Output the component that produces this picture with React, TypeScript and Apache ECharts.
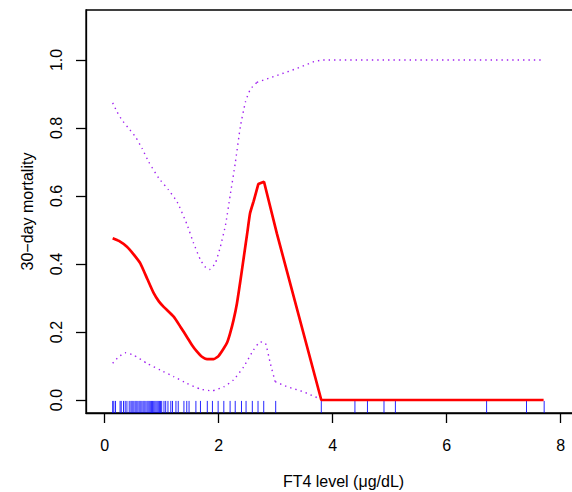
import React, { useEffect, useRef } from "react";
import * as echarts from "echarts";

// FT4 level (µg/dL) vs estimated 30-day mortality
const estimate: [number, number][] = [
  [0.14, 0.476], [0.25, 0.468], [0.39, 0.451], [0.5, 0.43], [0.625, 0.402],
  [0.75, 0.355], [0.86, 0.314], [0.95, 0.29], [1.035, 0.274], [1.21, 0.245],
  [1.33, 0.215], [1.44, 0.186], [1.53, 0.162], [1.62, 0.142], [1.7, 0.128],
  [1.795, 0.12], [1.91, 0.12], [2.0, 0.13], [2.09, 0.152], [2.15, 0.17],
  [2.2, 0.196], [2.26, 0.235], [2.32, 0.284], [2.38, 0.35], [2.44, 0.42],
  [2.5, 0.49], [2.55, 0.549], [2.61, 0.583], [2.695, 0.635], [2.795, 0.642],
  [3.02, 0.49], [3.8, 0], [7.7, 0],
];

const upperCI: [number, number][] = [
  [0.14, 0.874], [0.215, 0.848], [0.3, 0.824], [0.42, 0.799], [0.54, 0.774],
  [0.655, 0.74], [0.77, 0.701], [0.95, 0.652], [1.12, 0.618], [1.27, 0.583],
  [1.44, 0.518], [1.56, 0.461], [1.68, 0.412], [1.77, 0.39], [1.84, 0.384],
  [1.94, 0.402], [2.03, 0.451], [2.12, 0.515], [2.2, 0.6], [2.29, 0.696],
  [2.38, 0.804], [2.47, 0.877], [2.555, 0.914], [2.67, 0.934], [2.96, 0.951],
  [3.32, 0.972], [3.67, 0.995], [3.81, 1.0], [7.7, 1.0],
];

const lowerCI: [number, number][] = [
  [0.14, 0.108], [0.245, 0.127], [0.36, 0.139], [0.51, 0.132], [0.74, 0.108],
  [0.975, 0.088], [1.21, 0.069], [1.44, 0.049], [1.68, 0.032], [1.88, 0.027],
  [2.09, 0.039], [2.26, 0.059], [2.44, 0.098], [2.61, 0.147], [2.73, 0.171],
  [2.82, 0.167], [2.905, 0.108], [2.99, 0.054], [3.2, 0.039], [3.49, 0.024],
  [3.78, 0.003], [3.8, 0], [7.7, 0],
];

// observed FT4 values (rug)
const rugValues: number[] = [
  0.14, 0.16, 0.19, 0.27, 0.29, 0.33, 0.36, 0.39, 0.43, 0.46, 0.48, 0.5, 0.53,
  0.55, 0.57, 0.6, 0.62, 0.64, 0.67, 0.69, 0.71, 0.74, 0.76, 0.78, 0.8, 0.82,
  0.84, 0.86, 0.88, 0.9, 0.92, 0.94, 0.96, 0.98, 1.0, 1.04, 1.07, 1.11, 1.16,
  1.19, 1.25, 1.29, 1.39, 1.44, 1.48, 1.6, 1.68, 1.8, 1.89, 1.99, 2.09, 2.2,
  2.29, 2.4, 2.48, 2.59, 2.69, 2.79, 3.0, 3.8, 4.39, 4.61, 4.9, 5.1, 6.7, 7.4,
  7.71,
];

const xTicks = [0, 2, 4, 6, 8];
const yTicks = [0, 0.2, 0.4, 0.6, 0.8, 1.0];

const X_MIN = -0.328;
const X_MAX = 8.707;
const Y_MIN = -0.0382;
const Y_MAX = 1.147;

// split a curve at a given x: smooth part up to splitX, straight part from splitX on
function splitAt(data: [number, number][], splitX: number) {
  const smoothPart = data.filter((d) => d[0] <= splitX);
  const straightPart = data.filter((d) => d[0] >= splitX);
  return [smoothPart, straightPart];
}

export default function App() {
  const ref = useRef<HTMLDivElement>(null);

  useEffect(() => {
    if (!ref.current) return;
    const chart = echarts.init(ref.current, null, { renderer: "svg" });
    const font = "Liberation Sans, Arial, Helvetica, sans-serif";
    const rugTop = Y_MIN + 0.03 * (Y_MAX - Y_MIN);

    const [estSmooth, estStraight] = splitAt(estimate, 2.61);
    const [upSmooth, upStraight] = splitAt(upperCI, 2.67);
    const [loSmooth, loStraight] = splitAt(lowerCI, 2.99);

    const dotted = { color: "#a020f0", width: 1.4, type: [1.4, 4] as number[] };
    const red = { color: "#ff0000", width: 2.7 };

    const lineSeries = (name: string, data: [number, number][], style: any, smooth: number | boolean, z: number) => ({
      type: "line",
      name,
      data,
      showSymbol: false,
      smooth,
      lineStyle: style,
      z,
    });

    chart.setOption({
      animation: false,
      backgroundColor: "#ffffff",
      grid: {
        left: 86,
        top: 10,
        width: 515,
        height: 403,
        show: true,
        borderColor: "#000000",
        borderWidth: 1.3,
        backgroundColor: "transparent",
        containLabel: false,
        outerBoundsMode: "none",
      },
      xAxis: {
        type: "value",
        min: X_MIN,
        max: X_MAX,
        name: "FT4 level (μg/dL)",
        nameLocation: "middle",
        nameGap: 60,
        nameTextStyle: { fontFamily: font, fontSize: 16, color: "#000" },
        axisLine: { show: true, onZero: false, lineStyle: { color: "#000", width: 1.3 } },
        axisTick: {
          show: true,
          inside: false,
          length: 10,
          customValues: xTicks,
          lineStyle: { color: "#000", width: 1.3 },
        },
        axisLabel: {
          show: true,
          margin: 24,
          customValues: xTicks,
          fontFamily: font,
          fontSize: 16,
          color: "#000",
          formatter: (v: number) => String(v),
        },
        splitLine: { show: false },
      },
      yAxis: {
        type: "value",
        min: Y_MIN,
        max: Y_MAX,
        name: "30−day mortality",
        nameLocation: "middle",
        nameGap: 51,
        nameRotate: 90,
        nameTextStyle: { fontFamily: font, fontSize: 16, color: "#000" },
        axisLine: { show: true, onZero: false, lineStyle: { color: "#000", width: 1.3 } },
        axisTick: {
          show: true,
          inside: false,
          length: 10,
          customValues: yTicks,
          lineStyle: { color: "#000", width: 1.3 },
        },
        axisLabel: {
          show: true,
          margin: 22,
          rotate: 90,
          customValues: yTicks,
          fontFamily: font,
          fontSize: 16,
          color: "#000",
          formatter: (v: number) => v.toFixed(1),
        },
        splitLine: { show: false },
      },
      series: [
        {
          type: "custom",
          name: "rug",
          data: rugValues.map((v) => [v, 0]),
          encode: { x: 0, y: 1 },
          renderItem: (params: any, api: any) => {
            const x = api.value(0);
            const p1 = api.coord([x, Y_MIN]);
            const p2 = api.coord([x, rugTop]);
            return {
              type: "line",
              shape: { x1: p1[0], y1: p1[1], x2: p2[0], y2: p2[1] },
              style: { stroke: "#0000ff", lineWidth: 1, opacity: 0.85 },
            };
          },
          z: 1,
        },
        lineSeries("upper", upSmooth, dotted, 0.15, 2),
        lineSeries("upper", upStraight, dotted, false, 2),
        lineSeries("lower", loSmooth, dotted, 0.15, 2),
        lineSeries("lower", loStraight, dotted, false, 2),
        lineSeries("estimate", estSmooth, red, 0.15, 3),
        lineSeries("estimate", estStraight, red, false, 3),
      ],
    });

    return () => chart.dispose();
  }, []);

  return (
    <div
      style={{
        position: "fixed",
        left: 0,
        top: 0,
        width: 572,
        height: 492,
        overflow: "hidden",
        background: "#fff",
      }}
    >
      <div ref={ref} style={{ width: 620, height: 492 }} />
    </div>
  );
}
